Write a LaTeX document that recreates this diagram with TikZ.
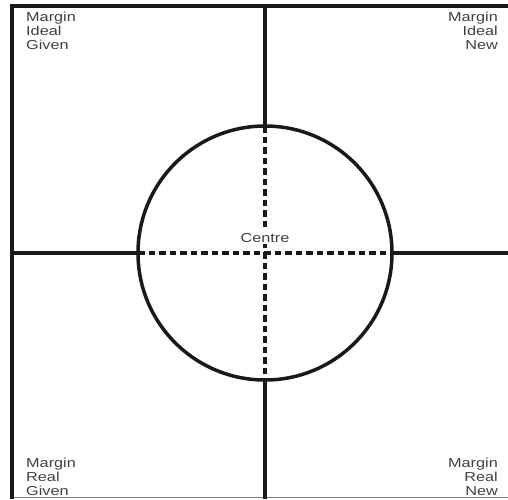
\documentclass[tikz,border=0pt]{standalone}
\usepackage{fontspec}
\setmainfont{Liberation Sans}
\newfontfamily\lblfont[FakeStretch=1.25]{Liberation Sans}
\begin{document}
\begin{tikzpicture}[x=1pt,y=-1pt,
  heavy/.style={line width=3.2pt,black!90},
  dashline/.style={line width=3.2pt,black!90,dash pattern=on 6.5pt off 4pt},
  lbl/.style={inner sep=0pt,font=\lblfont\fontsize{13}{14}\selectfont,text=black!75},
  lblL/.style={lbl,align=left},
  lblR/.style={lbl,align=right}]
\useasboundingbox (0,0) rectangle (508,499);
\fill[white] (0,0) rectangle (508,499);
\coordinate (tl) at (12,6);
\coordinate (tr) at (508,6);
\coordinate (bl) at (12,499);
\coordinate (blb) at (12,497);
\coordinate (brb) at (508,497);
\coordinate (vt) at (265,6);
\coordinate (vb) at (265,499);
\coordinate (hl) at (12,253);
\coordinate (hr) at (508,253);
\coordinate (c) at (265,253);
\coordinate (ct) at (265,126);
\coordinate (cb) at (265,380);
\coordinate (cl) at (138,253);
\coordinate (cr) at (392,253);
\draw[line width=1pt,black!50] (blb) -- (brb);
\draw[heavy] (bl) -- (tl) -- (tr);
\draw[heavy] (vt) -- (ct);
\draw[heavy] (cb) -- (vb);
\draw[heavy] (hl) -- (cl);
\draw[heavy] (cr) -- (hr);
\draw[dashline] (ct) -- (cb);
\draw[dashline] (cl) -- (cr);
\node[draw,heavy,line width=3.5pt,circle,minimum size=254pt,inner sep=0pt] (circ) at (c) {};
\node[lbl,anchor=base,fill=white,inner sep=1.5pt] (centre) at (265,242) {Centre};
\node[lblL,anchor=north west] (tlt) at (26,12) {Margin\\Ideal\\Given};
\node[lblR,anchor=north east] (trt) at (498,12) {Margin\\Ideal\\New};
\node[lblL,anchor=south west] (blt) at (26,496) {Margin\\Real\\Given};
\node[lblR,anchor=south east] (brt) at (498,496) {Margin\\Real\\New};
\end{tikzpicture}
\end{document}
